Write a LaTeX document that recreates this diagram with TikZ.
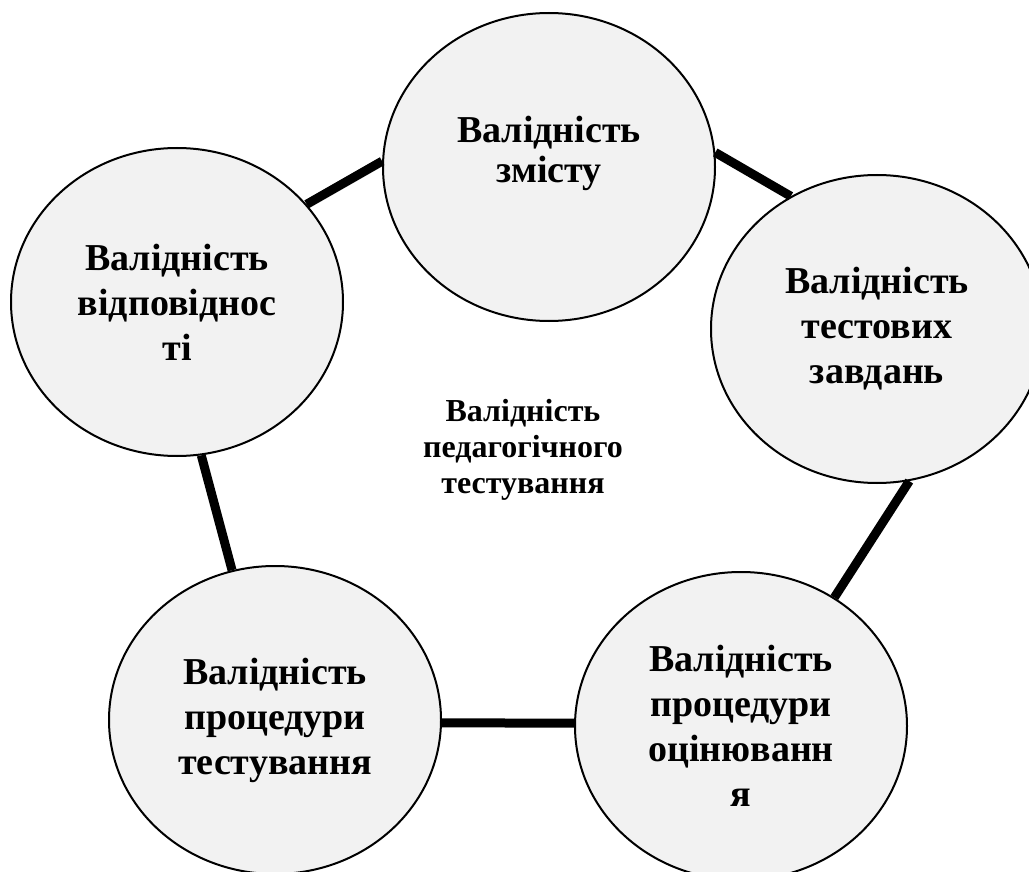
\documentclass[tikz,border=0pt]{standalone}
\usepackage{fontspec}
\setmainfont{Liberation Serif}
\usepackage{xcolor}
\usepackage{tikz}
\usetikzlibrary{shapes.geometric}

\begin{document}
\begin{tikzpicture}[x=1pt,y=-1pt,
  bubble/.style={ellipse,draw,line width=2pt,fill=gray!10,minimum width=332pt,minimum height=308pt,inner sep=0pt,align=center,font=\fontsize{38}{45}\selectfont\bfseries},
  link/.style={line width=9pt}]
\useasboundingbox (0,0) rectangle (1029,872);
\node[bubble,font=\fontsize{38}{40}\selectfont\bfseries] (zmist) at (549,167) {Валідність\\змісту\\[-4pt]\mbox{}};
\node[bubble] (vidp) at (177,302) {Валідність\\відповіднос\\ті};
\node[bubble] (zavd) at (877,329) {Валідність\\тестових\\завдань};
\node[bubble] (testuv) at (275,720) {Валідність\\процедури\\тестування};
\node[bubble] (ocin) at (741,726) {Валідність\\процедури\\оцінюванн\\я};
\node[align=center,font=\fontsize{32}{36}\selectfont\bfseries] (centre) at (523,450) {Валідність\\педагогічного\\тестування};
\draw[link] (vidp.37) -- (zmist.178);
\draw[link] (zmist.5) -- (zavd.123);
\draw[link] (zavd.-78) -- (ocin.54);
\draw[link] (testuv.-1) -- (ocin.179);
\draw[link] (vidp.-81) -- (testuv.106);
\end{tikzpicture}
\end{document}
